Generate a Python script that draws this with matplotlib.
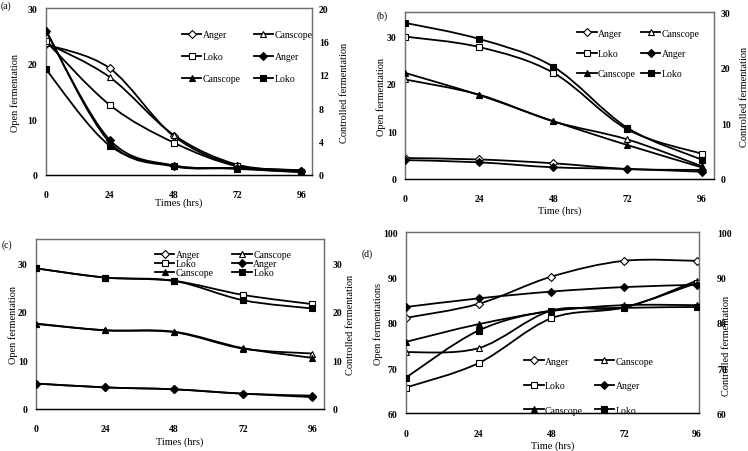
import numpy as np
import matplotlib
matplotlib.use('Agg')
import matplotlib.pyplot as plt
from matplotlib.path import Path
from matplotlib.patches import PathPatch
from matplotlib.lines import Line2D

plt.rcParams['font.family'] = ['Liberation Serif', 'DejaVu Serif']

hours = [0, 24, 48, 72, 96]

# (a) open fermentation (left axis) / controlled fermentation (right axis)
a_open_anger = [23.5, 19.2, 7.0, 1.6, 0.7]
a_open_canscope = [23.8, 17.6, 7.2, 1.8, 0.8]
a_open_loko = [24.1, 12.6, 5.8, 1.5, 0.5]
a_ctrl_anger = [17.3, 4.2, 1.1, 0.8, 0.5]
a_ctrl_canscope = [17.4, 3.9, 1.0, 0.8, 0.4]
a_ctrl_loko = [12.7, 3.5, 1.1, 0.7, 0.3]

# (b)
b_open_anger = [4.4, 4.1, 3.3, 2.1, 1.9]
b_open_canscope = [20.9, 17.7, 12.1, 8.3, 2.7]
b_open_loko = [29.9, 27.7, 22.3, 10.4, 5.3]
b_ctrl_anger = [3.4, 3.0, 2.1, 1.8, 1.3]
b_ctrl_canscope = [19.1, 15.1, 10.4, 6.1, 2.1]
b_ctrl_loko = [28.1, 25.2, 20.2, 9.2, 3.5]

# (c)
c_open_anger = [5.2, 4.4, 4.0, 3.1, 2.7]
c_open_canscope = [17.5, 16.2, 15.8, 12.4, 11.4]
c_open_loko = [29.0, 27.1, 26.4, 23.5, 21.6]
c_ctrl_anger = [5.2, 4.4, 4.0, 3.1, 2.4]
c_ctrl_canscope = [17.6, 16.2, 15.9, 12.5, 10.5]
c_ctrl_loko = [29.0, 27.1, 26.4, 22.4, 20.7]

# (d)
d_open_anger = [81.1, 84.2, 90.2, 93.7, 93.7]
d_open_canscope = [73.5, 74.4, 82.7, 83.4, 89.3]
d_open_loko = [65.7, 71.1, 81.0, 83.4, 88.8]
d_ctrl_anger = [83.5, 85.4, 86.9, 87.9, 88.4]
d_ctrl_canscope = [75.8, 79.7, 82.6, 83.9, 83.9]
d_ctrl_loko = [67.9, 78.3, 82.7, 83.3, 83.5]

markers = {'Anger': 'D', 'Canscope': '^', 'Loko': 's'}
msizes = {'Anger': 4.0, 'Canscope': 5.0, 'Loko': 5.0}
LW = 1.3


def smooth_line(ax, x, y, marker, ms, filled):
    # excel style smoothed line: bezier segments through the points
    pts = np.column_stack([x, y]).astype(float)
    p = np.vstack([pts[0], pts, pts[-1]])
    verts = [pts[0]]
    codes = [Path.MOVETO]
    for i in range(len(pts) - 1):
        p0, p1, p2, p3 = p[i], p[i + 1], p[i + 2], p[i + 3]
        verts += [p1 + (p2 - p0) / 6, p2 - (p3 - p1) / 6, p2]
        codes += [Path.CURVE4] * 3
    ax.add_patch(PathPatch(Path(verts, codes), fill=False, lw=LW,
                           edgecolor='black', zorder=2))
    ax.plot(x, y, linestyle='none', marker=marker, ms=ms,
            mfc='black' if filled else 'white', mec='black', mew=0.8, zorder=3)


def handle(name, filled):
    return Line2D([], [], color='black', lw=LW, marker=markers[name],
                  ms=msizes[name], mfc='black' if filled else 'white',
                  mec='black', mew=0.8)


def panel(rect, opens, ctrls, lylim, lyticks, rylim, ryticks, xmax, xlabel,
          ylabel, ylab_x, xlab_y, rlab, leg_xy, leg_space, leg_colsp,
          rpad=5):
    ax = fig.add_axes(rect)
    ax2 = ax.twinx()
    for name, vals in zip(['Anger', 'Canscope', 'Loko'], opens):
        smooth_line(ax, hours, vals, markers[name], msizes[name], False)
    for name, vals in zip(['Anger', 'Canscope', 'Loko'], ctrls):
        smooth_line(ax2, hours, vals, markers[name], msizes[name], True)
    ax.set_xlim(0, xmax)
    ax.set_ylim(*lylim)
    ax2.set_ylim(*rylim)
    ax.set_xticks(hours)
    ax.set_yticks(lyticks)
    ax2.set_yticks(ryticks)
    for a in (ax, ax2):
        for s in a.spines.values():
            s.set_color('#707070')
            s.set_linewidth(0.9)
        a.spines['bottom'].set_color('black')
        a.tick_params(length=0, labelsize=7)
        for t in a.get_xticklabels() + a.get_yticklabels():
            t.set_fontweight('bold')
    ax.tick_params(axis='x', pad=11)
    ax.tick_params(axis='y', pad=6)
    ax2.tick_params(axis='y', pad=rpad)
    ax.set_xlabel(xlabel, fontsize=7.5)
    ax.set_ylabel(ylabel, fontsize=7.5)
    ax2.set_ylabel('Controlled fermentation', fontsize=7.5)
    ax.xaxis.set_label_coords(0.5, xlab_y)
    ax.yaxis.set_label_coords(ylab_x, 0.5)
    ax2.yaxis.set_label_coords(rlab[0], rlab[1])
    hs = [handle('Anger', False), handle('Loko', False), handle('Canscope', True),
          handle('Canscope', False), handle('Anger', True), handle('Loko', True)]
    ls = ['Anger', 'Loko', 'Canscope', 'Canscope', 'Anger', 'Loko']
    ax2.legend(hs, ls, ncol=2, loc='upper left', bbox_to_anchor=leg_xy,
               frameon=False, fontsize=7, borderpad=0, borderaxespad=0,
               handlelength=2.0, handletextpad=0.15, labelspacing=leg_space,
               columnspacing=leg_colsp)
    return ax, ax2


fig = plt.figure(figsize=(7.48, 4.52), dpi=100)

panel([0.0611, 0.6113, 0.3560, 0.3681],
      [a_open_anger, a_open_canscope, a_open_loko],
      [a_ctrl_anger, a_ctrl_canscope, a_ctrl_loko],
      (0, 30), [0, 10, 20, 30], (0, 20), [0, 4, 8, 12, 16, 20], 100,
      'Times (hrs)', 'Open fermentation', -0.098, -0.137, (1.107, 0.5),
      (0.512, 0.87), 1.35, 1.3)

panel([0.5414, 0.6018, 0.4131, 0.3688],
      [b_open_anger, b_open_canscope, b_open_loko],
      [b_ctrl_anger, b_ctrl_canscope, b_ctrl_loko],
      (0, 35), [0, 10, 20, 30], (0, 30), [0, 10, 20, 30], 100,
      'Time (hrs)', 'Open fermentation', -0.063, -0.159, (1.083, 0.5),
      (0.557, 0.901), 1.15, 0.5)

panel([0.0481, 0.0936, 0.3850, 0.3748],
      [c_open_anger, c_open_canscope, c_open_loko],
      [c_ctrl_anger, c_ctrl_canscope, c_ctrl_loko],
      (0, 35), [0, 10, 20, 30], (0, 35), [0, 10, 20, 30], 100,
      'Times (hrs)', 'Open fermentation', -0.063, -0.164, (1.077, 0.5),
      (0.413, 0.935), 0.0, 1.9, rpad=6)

panel([0.5428, 0.0834, 0.3917, 0.4004],
      [d_open_anger, d_open_canscope, d_open_loko],
      [d_ctrl_anger, d_ctrl_canscope, d_ctrl_loko],
      (60, 100), [60, 70, 80, 90, 100], (60, 100), [60, 70, 80, 90, 100], 96.8,
      'Time (hrs)', 'Open fermentations', -0.080, -0.150, (1.079, 0.38),
      (0.403, 0.313), 1.6, 1.2, rpad=13)

fig.text(1 / 748, 1 - 6 / 452, '(a)', fontsize=7, va='center', ha='left')
fig.text(377 / 748, 1 - 16 / 452, '(b)', fontsize=7, va='center', ha='left')
fig.text(2 / 748, 1 - 245 / 452, '(c)', fontsize=7, va='center', ha='left')
fig.text(362 / 748, 1 - 254 / 452, '(d)', fontsize=7, va='center', ha='left')

fig.savefig('out.png', dpi=100)
